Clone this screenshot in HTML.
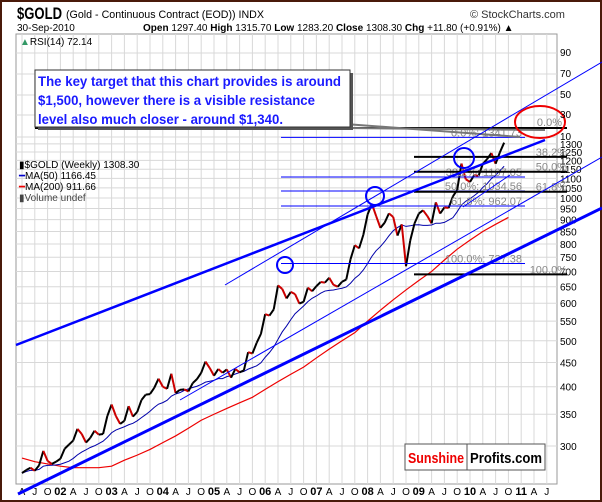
<!DOCTYPE html>
<html><head><meta charset="utf-8"><style>
body{margin:0;background:#fff}
svg{display:block;font-family:"Liberation Sans",sans-serif}
</style></head><body>
<svg id="c" width="602" height="502" xmlns="http://www.w3.org/2000/svg">
<rect x="1" y="1" width="600" height="500" fill="#fff" stroke="#4a1a0a" stroke-width="2"/>
<text x="17" y="19" font-size="17" font-weight="bold" textLength="45" lengthAdjust="spacingAndGlyphs">$GOLD</text>
<text x="66" y="18" font-size="11" textLength="198" lengthAdjust="spacingAndGlyphs">(Gold - Continuous Contract (EOD)) INDX</text>
<text x="470" y="18" font-size="11" fill="#333">© StockCharts.com</text>
<text x="17" y="31" font-size="10">30-Sep-2010</text>
<text x="143" y="31" font-size="10"><tspan font-weight="bold">Open</tspan> 1297.40 <tspan font-weight="bold">High</tspan> 1315.70 <tspan font-weight="bold">Low</tspan> 1283.20 <tspan font-weight="bold">Close</tspan> 1308.30 <tspan font-weight="bold">Chg</tspan> +11.80 (+0.91%) ▲</text>
<rect x="16" y="34" width="541" height="450" fill="#fff" stroke="#999"/>
<g id="grid"></g>
<g id="marks"></g>
<g id="annot"></g>
<text x="20" y="45" font-size="10"><tspan fill="#396">▲</tspan>RSI(14) 72.14</text>
<g font-size="10">
<text x="560" y="56">90</text><text x="560" y="77">70</text><text x="560" y="98">50</text><text x="560" y="118">30</text><text x="560" y="140">10</text>
</g>
<g>
<rect x="38" y="73" width="315" height="57" fill="#555"/>
<rect x="35" y="70" width="315" height="57" fill="#fff" stroke="#333"/>
<text font-size="13.5" font-weight="bold" fill="#1a1aff" lengthAdjust="spacingAndGlyphs"><tspan x="38" y="86" textLength="303" lengthAdjust="spacingAndGlyphs">The key target that this chart provides is around</tspan><tspan x="38" y="105" textLength="277" lengthAdjust="spacingAndGlyphs">$1,500, however there is a visible resistance</tspan><tspan x="38" y="124" textLength="245" lengthAdjust="spacingAndGlyphs">level also much closer - around $1,340.</tspan></text>
</g>
<g font-size="10">
<text x="19" y="168">▮$GOLD (Weekly) 1308.30</text>
<text x="19" y="179" fill="#000"><tspan fill="#00c">━</tspan>MA(50) 1166.45</text>
<text x="19" y="190"><tspan fill="#e00">━</tspan>MA(200) 911.66</text>
<text x="19" y="201" fill="#444">▮Volume undef</text>
</g>
<g>
<rect x="405" y="444" width="140" height="26" fill="#fff" stroke="#555"/>
<line x1="467" y1="444" x2="467" y2="470" stroke="#555"/>
<text x="408" y="463" font-size="15" font-weight="bold" fill="#e00" textLength="56" lengthAdjust="spacingAndGlyphs">Sunshine</text>
<text x="470" y="463" font-size="15" font-weight="bold" textLength="72" lengthAdjust="spacingAndGlyphs">Profits.com</text>
</g>
</svg>
<script>
const xLabels=["A","J","O","02","A","J","O","03","A","J","O","04","A","J","O","05","A","J","O","06","A","J","O","07","A","J","O","08","A","J","O","09","A","J","O","10","A","J","O","11","A","J"];
const priceTicks=[300,350,400,450,500,550,600,650,700,750,800,850,900,950,1000,1050,1100,1150,1200,1250,1300];
// monthly closes Apr 2001 .. Sep 2010
const closes=[263,267,270,266,273,293,279,275,278,
282,296,302,308,326,318,305,312,323,317,318,347,
367,347,334,339,364,346,354,375,385,386,398,416,
400,396,426,388,394,395,391,407,415,428,452,438,
422,436,428,435,418,436,429,433,473,470,495,517,
569,565,582,654,643,614,634,627,599,604,647,636,
652,665,663,679,656,650,666,673,743,795,783,836,
923,972,916,865,887,928,912,833,880,718,814,884,
927,942,916,884,979,927,955,953,1008,1040,1182,1095,
1081,1118,1113,1180,1207,1244,1181,1248,1308];
// MA(200) quarterly, Apr 2001 ..
const ma200=[283,278,275,272,270,270,270,272,280,287,295,305,315,327,340,350,360,370,380,395,410,425,440,460,480,500,520,550,580,610,640,670,700,740,780,815,850,880,910];
const fibLevels=[1341.73,1107.05,1034.56,962.07,727.38];
const fibLabels=["0.0%: 1341.73","38.2%: 1107.05","50.0%: 1034.56","61.8%: 962.07","100.0%: 727.38"];
const fib2Levels=[1221,1136,1031,690];
const fib2Labels=["38.2%","50.0%","61.8%","100.0%"];

const NS="http://www.w3.org/2000/svg";
function X(m){return 22+m*51.2/12;}
function Y(p){return 446-206*Math.log(p/300);}
function el(t,a,parent){const e=document.createElementNS(NS,t);for(const k in a)e.setAttribute(k,a[k]);document.getElementById(parent).appendChild(e);return e;}

for(let i=0;i<xLabels.length;i++){
  const x=X(i*3);
  if(x>557)break;
  const g=el('line',{x1:x,y1:34,x2:x,y2:484,stroke:'#d8d8d8'},'grid');
  
  
  const t=el('text',{x:x,y:495,'font-size':xLabels[i].length>1?11:10,'font-weight':xLabels[i].length>1?'bold':'normal','text-anchor':'middle'},'grid');
  t.textContent=xLabels[i];
  
  
}
[53,74,95,115,137].forEach(y=>{const g=el('line',{x1:16,y1:y,x2:557,y2:y,stroke:'#d8d8d8'},'grid');});
priceTicks.forEach(p=>{
  const y=Y(p);
  const g=el('line',{x1:16,y1:y,x2:557,y2:y,stroke:'#d8d8d8'},'grid');
  
  
  const t=el('text',{x:560,y:y+4,'font-size':10},'grid');
  t.textContent=p;
  
  
});

let d='';ma200.forEach((v,i)=>{d+=(i?'L':'M')+X(i*3)+' '+Y(v);});
let p=el('path',{d:d,fill:'none',stroke:'#e00','stroke-width':1.2},'marks');


d='';closes.forEach((v,i)=>{const s=closes.slice(Math.max(0,i-11),i+1);const a=s.reduce((q,r)=>q+r,0)/s.length;d+=(i?'L':'M')+X(i)+' '+Y(a);});
p=el('path',{d:d,fill:'none',stroke:'#00a','stroke-width':1},'marks');


for(let i=1;i<closes.length;i++){
  const s=el('line',{x1:X(i-1),y1:Y(closes[i-1]),x2:X(i),y2:Y(closes[i]),stroke:closes[i]<closes[i-1]?'#c00':'#000','stroke-width':2},'marks');
  
  
}

fibLevels.forEach((v,i)=>{
  const l=el('line',{x1:281,y1:Y(v),x2:525,y2:Y(v),stroke:'#00f','stroke-width':1},'annot');
  
  
  const t=el('text',{x:522,y:Y(v)-1,'font-size':11,fill:'#888','text-anchor':'end'},'annot');
  t.textContent=fibLabels[i];
  
  
});
fib2Levels.forEach((v,i)=>{
  const l=el('line',{x1:414,y1:Y(v),x2:567,y2:Y(v),stroke:'#000','stroke-width':2},'annot');
  
  
  const t=el('text',{x:567,y:Y(v)-1,'font-size':11,fill:'#888','text-anchor':'end'},'annot');
  t.textContent=fib2Labels[i];
  
  
});
let l=el('line',{x1:35,y1:128,x2:567,y2:128,stroke:'#000','stroke-width':2},'annot');


let t=el('text',{x:562,y:126,'font-size':11,fill:'#888','text-anchor':'end'},'annot');t.textContent='0.0%';


[[345,124,520,137],[348,128,545,130]].forEach(c=>{const q=el('line',{x1:c[0],y1:c[1],x2:c[2],y2:c[3],stroke:'#777','stroke-width':2},'annot');});
[[16,345,545,140,2.5],[18,494,602,208,3],[225,285,602,62,1],[180,400,602,157,1],[463,207,510,175,1]].forEach(c=>{
  const q=el('line',{x1:c[0],y1:c[1],x2:c[2],y2:c[3],stroke:'#00f','stroke-width':c[4]},'annot');
  
  
});
[[285,265,8],[375,196,9],[464,158,10]].forEach(c=>{
  const q=el('circle',{cx:c[0],cy:c[1],r:c[2],fill:'none',stroke:'#00f','stroke-width':2},'annot');
  
  
});
l=el('ellipse',{cx:540,cy:122,rx:25,ry:16,fill:'none',stroke:'#e00','stroke-width':2},'annot');


</script>
</body></html>
